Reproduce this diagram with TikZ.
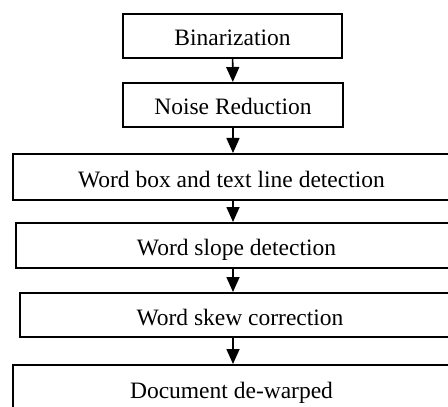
\documentclass[tikz,border=0pt]{standalone}
\usepackage{fontspec}
\setmainfont{Liberation Serif}
\usetikzlibrary{arrows.meta}

\begin{document}
\begin{tikzpicture}[x=1pt,y=1pt,
		stepbox/.style={draw, line width=1pt, inner sep=0pt,
			text height=10pt, text depth=0pt,
			font=\fontsize{11.75}{14}\selectfont},
		arr/.style={line width=0.8pt, -{Triangle[width=6.5pt,length=7.5pt]}}]
		\useasboundingbox (0,0) rectangle (224,-203);
		\clip (0,0) rectangle (224,-203);
		\node[stepbox, minimum width=109.5pt, minimum height=22pt] (bin) at (116.25,-18) {Binarization};
		\node[stepbox, minimum width=110pt, minimum height=22pt] (noise) at (116.5,-52.5) {Noise Reduction};
		\node[stepbox, minimum width=218.5pt, minimum height=23pt] (wbox) at (115.75,-88.5) {Word box and text line detection};
		\node[stepbox, minimum width=220.5pt, minimum height=22.5pt] (slope) at (118.25,-122.75) {Word slope detection};
		\node[stepbox, minimum width=220pt, minimum height=22pt] (skew) at (120,-157.5) {Word skew correction};
		\node[stepbox, minimum width=218.5pt, minimum height=23pt] (dewarp) at (115.75,-194) {Document de-warped};
		\draw[arr] (bin) -- (noise);
		\draw[arr] (noise.south) -- (wbox.north -| noise);
		\draw[arr] (wbox.south -| noise) -- (slope.north -| noise);
		\draw[arr] (slope.south -| noise) -- (skew.north -| noise);
		\draw[arr] (skew.south -| noise) -- (dewarp.north -| noise);
	\end{tikzpicture}
\end{document}
